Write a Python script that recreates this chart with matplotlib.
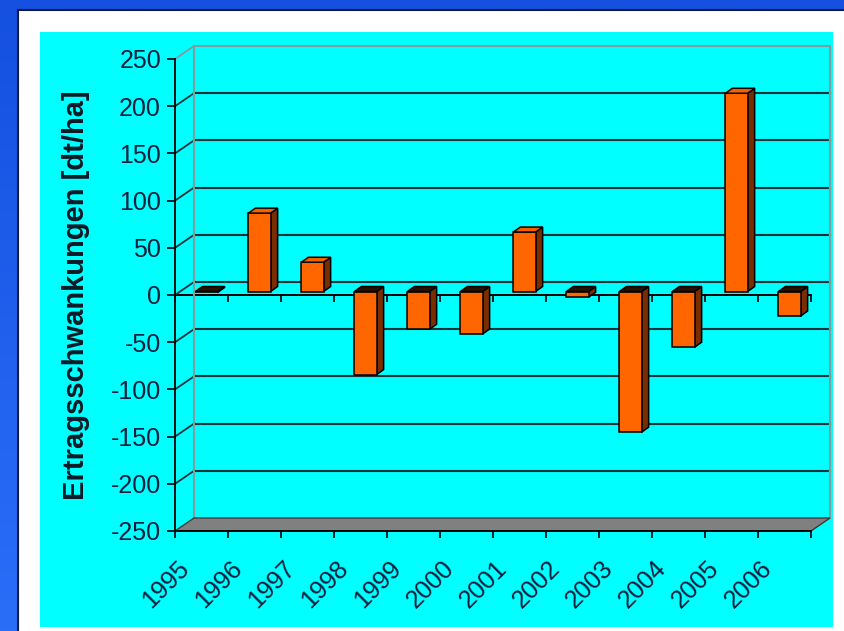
import numpy as np
import matplotlib
matplotlib.use('Agg')
import matplotlib.pyplot as plt
from matplotlib.patches import Polygon, Rectangle
from matplotlib.transforms import ScaledTranslation
from matplotlib.colors import LinearSegmentedColormap

# ---- data ----
years = ['1995', '1996', '1997', '1998', '1999', '2000',
         '2001', '2002', '2003', '2004', '2005', '2006']
values = [-1, 83, 31, -88, -40, -45, 63, -6, -149, -59, 210, -26]
yticks = [-250, -200, -150, -100, -50, 0, 50, 100, 150, 200, 250]
ylabel = 'Ertragsschwankungen [dt/ha]'

plt.rcParams['font.family'] = ['Liberation Sans', 'DejaVu Sans']
plt.rcParams['axes.unicode_minus'] = False

W, H = 845, 631
fig = plt.figure(figsize=(W / 100, H / 100), dpi=100)

# ---- background: blue frame, white panel, cyan chart area ----
bg = fig.add_axes([0, 0, 1, 1], zorder=-10)
bg.set_xlim(0, W)
bg.set_ylim(H, 0)
bg.axis('off')
grad = np.linspace(0, 1, 256).reshape(-1, 1)
cmap = LinearSegmentedColormap.from_list('blu', ['#1550e0', '#2a6ef8'])
bg.imshow(grad, cmap=cmap, extent=[0, W, H, 0], aspect='auto')
bg.add_patch(Rectangle((18, 10), W, H, facecolor='white', edgecolor='#0a1a4a', lw=1.5))
bg.add_patch(Rectangle((40, 32), 793, 595, facecolor='#00ffff', edgecolor='none'))

# ---- main axes (front plane) ----
L, R, T, B = 175, 811, 59, 531
ax = fig.add_axes([L / W, 1 - B / H, (R - L) / W, (B - T) / H])
ax.set_facecolor('none')
n = len(years)
ymin, ymax = yticks[0], yticks[-1]
ax.set_xlim(0, n)
ax.set_ylim(ymin, ymax)

upx = n / (R - L)              # data units per pixel (x)
upy = (ymax - ymin) / (B - T)  # data units per pixel (y)
ox, oy = 19 * upx, 13 * upy    # wall depth
dx, dy = 7 * upx, 5 * upy      # bar depth

grid_c = '#163338'
edge_c = '#7f9c9e'

# back wall gridlines + side diagonals
for v in yticks[1:-1]:
    ax.plot([ox, n + ox], [v + oy, v + oy], color=grid_c, lw=1.5,
            clip_on=False, zorder=0.5)
for v in yticks[1:]:
    ax.plot([0, ox], [v, v + oy], color=(edge_c if v == ymax else grid_c),
            lw=1.3, clip_on=False, zorder=0.5)
ax.plot([ox, ox, n + ox, n + ox], [ymin + oy, ymax + oy, ymax + oy, ymin + oy],
        color=edge_c, lw=1.5, clip_on=False, zorder=0.5)
ax.add_patch(Polygon([(0, ymin), (n, ymin), (n + ox, ymin + oy), (ox, ymin + oy)],
                     closed=True, fc='#808080', ec='#3a3a3a', lw=1,
                     clip_on=False, zorder=0.8))

# front zero axis with ticks
sec = ax.secondary_xaxis(0.5)
sec.set_alignment('bottom')
sec.set_xticks(np.arange(n + 1))
sec.tick_params(axis='x', labelbottom=False, length=5, width=1.2, color='black')
sec.spines['bottom'].set_linewidth(1.4)
sec.spines['bottom'].set_color('black')

# ---- 3D bars ----
tr = ax.transData + ScaledTranslation(5 / 100, 3.5 / 100, fig.dpi_scale_trans)
x = np.arange(n) + 0.5
bw = 0.42
ax.bar(x, values, bw, color='#ff6600', edgecolor='black', lw=1.1,
       transform=tr, zorder=3, clip_on=False)
for xi, v in zip(x, values):
    xl, xr = xi - bw / 2, xi + bw / 2
    ax.add_patch(Polygon([(xr, 0), (xr + dx, dy), (xr + dx, v + dy), (xr, v)],
                         closed=True, fc='#7a2e00', ec='black', lw=1.1,
                         transform=tr, zorder=2.9, clip_on=False))
    yt = max(v, 0)
    ax.add_patch(Polygon([(xl, yt), (xr, yt), (xr + dx, yt + dy), (xl + dx, yt + dy)],
                         closed=True, fc=('#f26200' if v > 0 else '#2a1200'),
                         ec='black', lw=1.1, transform=tr, zorder=3.1, clip_on=False))

# ---- axes styling ----
for s in ('top', 'right'):
    ax.spines[s].set_visible(False)
for s in ('left', 'bottom'):
    ax.spines[s].set_color('black')
    ax.spines[s].set_linewidth(1.3)

txt_c = '#0d1f3c'
ax.set_yticks(yticks)
ax.tick_params(axis='y', length=6, width=1.2, pad=4, labelsize=18,
               labelcolor=txt_c, color='black')
ax.set_xticks(np.arange(n + 1))
ax.set_xticklabels([])
ax.set_xticks(np.arange(n) + 0.19, labels=years, minor=True)
ax.tick_params(axis='x', which='major', length=5, width=1.2, color='black')
ax.tick_params(axis='x', which='minor', length=0, pad=24, labelsize=18,
               labelcolor=txt_c)
for lab in ax.get_xticklabels(minor=True):
    lab.set_rotation(45)
    lab.set_ha('right')
    lab.set_va('center')
    lab.set_rotation_mode('anchor')

ax.set_ylabel(ylabel, fontsize=21, fontweight='bold', color='#0d1a26')
ax.yaxis.set_label_coords(-0.134, 0.5)

fig.savefig('out.png', dpi=100)
